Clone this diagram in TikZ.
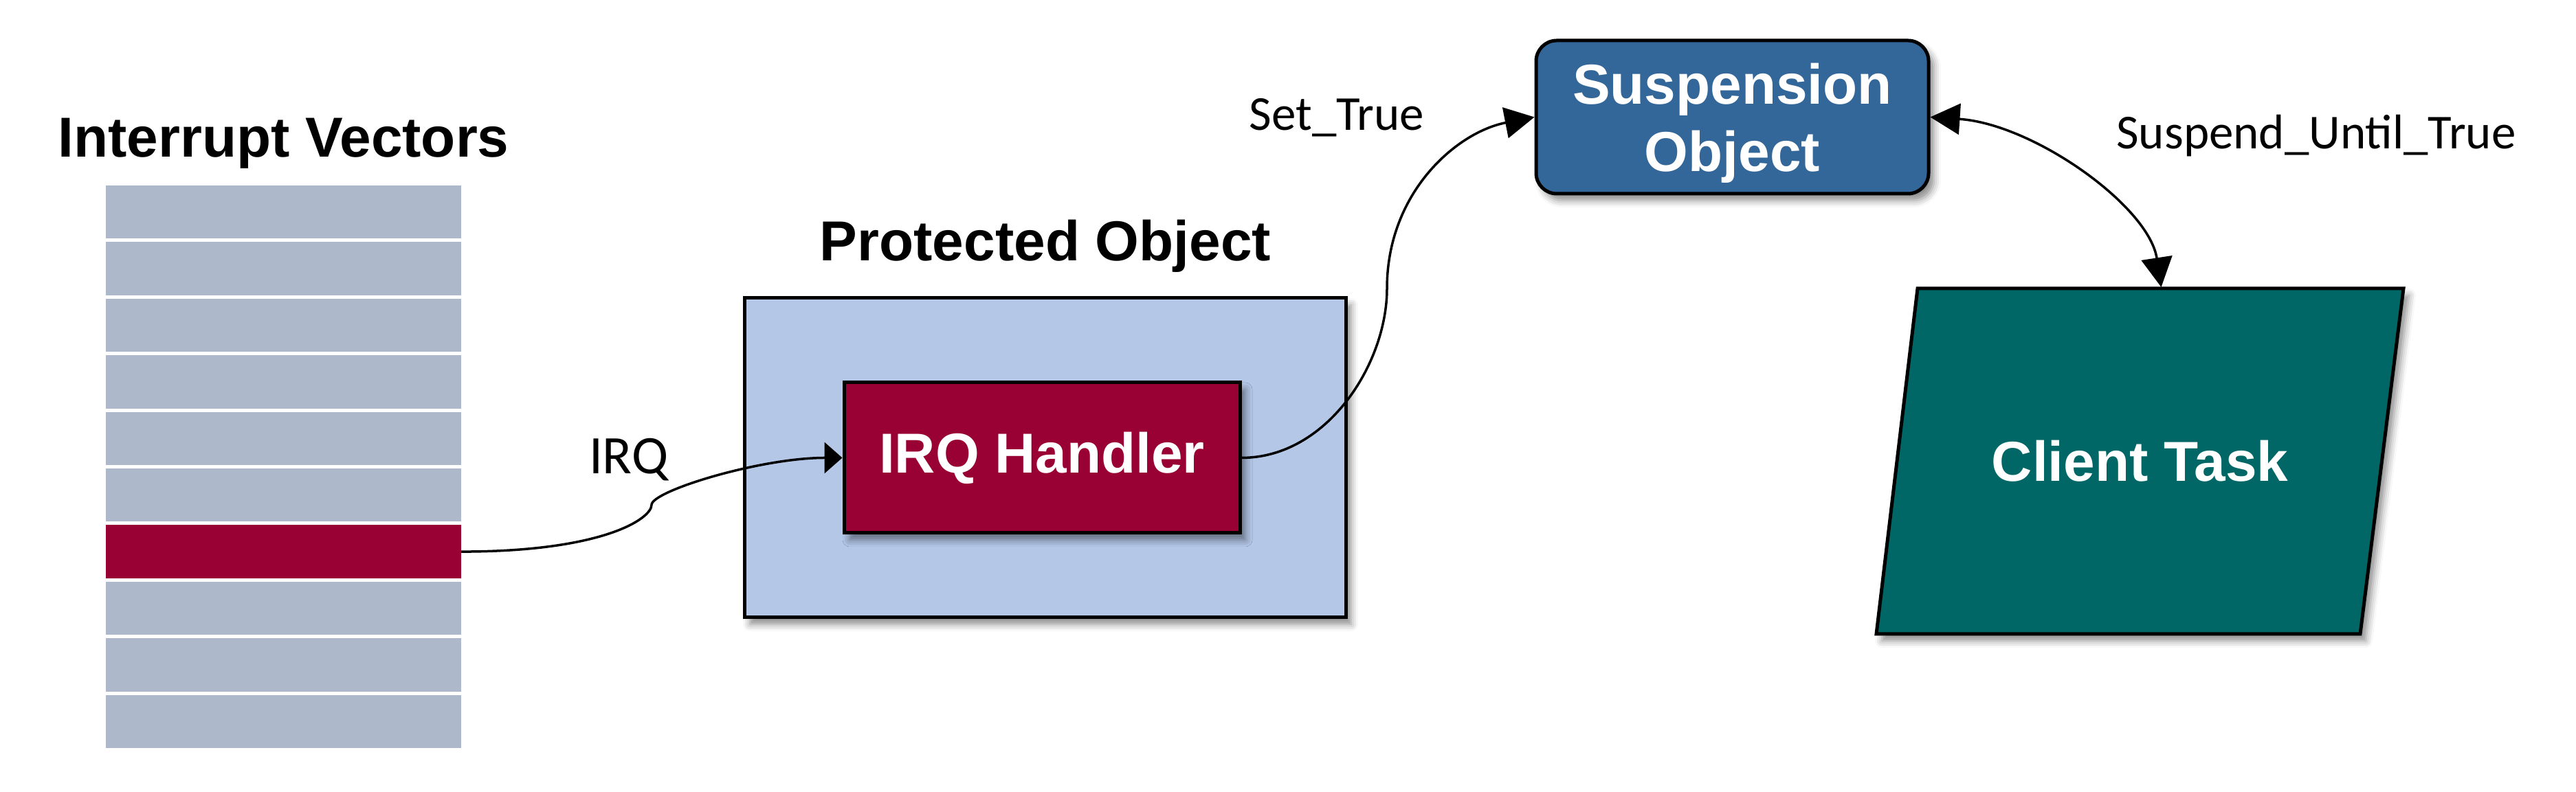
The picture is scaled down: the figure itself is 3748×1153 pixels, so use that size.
\documentclass[tikz,border=0pt]{standalone}
\usepackage{fontspec}
\setmainfont{Liberation Sans}
\newfontfamily\lblfont{Carlito}
\usetikzlibrary{arrows.meta,shadows.blur,calc}
\definecolor{vecgray}{HTML}{ADB9CA}
\definecolor{irqred}{HTML}{990033}
\definecolor{pofill}{HTML}{B4C7E7}
\definecolor{susblue}{HTML}{336699}
\definecolor{clientteal}{HTML}{006666}

\begin{document}
\begin{tikzpicture}[x=0.2pt,y=-0.2pt,
  vecbar/.style={rectangle, minimum width=103.4pt, minimum height=15.48pt, inner sep=0pt, outer sep=0pt},
  titletext/.style={font=\bfseries\fontsize{16.4}{19.6}\selectfont, anchor=base, inner sep=0pt},
  lbl/.style={font=\lblfont\fontsize{14.2}{17}\selectfont, anchor=base, inner sep=0pt},
  shad/.style={blur shadow={shadow xshift=1.6pt, shadow yshift=-2pt, shadow blur radius=2pt, shadow opacity=45}},
  boxnode/.style={draw=black, line width=1pt, inner sep=0pt, shad, text=white, font=\bfseries\fontsize{16.4}{19.6}\selectfont, align=center},
  tip/.tip={Triangle[length=8.6pt,width=9pt]},
  shorttip/.tip={Triangle[length=5.2pt,width=9pt]},
  conn/.style={draw=black, line width=0.7pt},
]
\useasboundingbox (0,0) rectangle (3748,1153);

% interrupt vectors
\node[titletext] (ivtitle) at (412.5,229) {Interrupt Vectors};
\foreach \i/\c in {1/vecgray,2/vecgray,3/vecgray,4/vecgray,5/vecgray,6/vecgray,7/irqred,8/vecgray,9/vecgray,10/vecgray}{
  \node[vecbar, fill=\c] (vec\i) at (412.5,{308.7+82.4*(\i-1)}) {};
}

% protected object
\node[draw=black, line width=1pt, fill=pofill, shad, minimum width=175pt, minimum height=93pt, inner sep=0pt] (po) at (1520.5,666.5) {};
\node[titletext] (potitle) at (1521,380) {Protected Object};
\node[boxnode, fill=irqred, minimum width=115.2pt, minimum height=43.8pt] (irqh) at (1516,666.5) {IRQ Handler};

% suspension object
\node[boxnode, fill=susblue, rounded corners=6pt, minimum width=114.2pt, minimum height=44.6pt, text depth=0pt] (sus) at (2520.5,170.5) {Suspension\\Object};

% client task
\draw[line width=1pt, fill=clientteal, shad] (2790,420) -- (3497,420) -- (3434,923) -- (2730,923) -- cycle;
\node[inner sep=0pt, outer sep=0pt, text=white, font=\bfseries\fontsize{16.4}{19.6}\selectfont, minimum width=140pt, minimum height=101.4pt] (client) at (3113.5,671.5) {Client Task};

% connectors
\draw[conn, -shorttip] (vec7.east) .. controls +(207,0) and +(0,20) .. (948,735)
  .. controls +(0,-20) and +(-120,0) .. (irqh.west);
\draw[conn, -tip] (irqh.east) .. controls +(124,0) and +(0,110) .. (2018,420)
  .. controls +(0,-140) and +(-113,22) .. (sus.west);
\draw[conn, tip-tip] (sus.east) .. controls +(150,10) and +(-18,-118) .. ([xshift=6.2pt]client.north);

% labels
\node[lbl, anchor=base west, font=\lblfont\fontsize{15.8}{19}\selectfont] (irqlbl) at (856,690) {IRQ};
\node[lbl] (setlbl) at (1945,190) {Set\_True};
\node[lbl] (suslbl) at (3370,217) {Suspend\_Until\_True};
\end{tikzpicture}
\end{document}
